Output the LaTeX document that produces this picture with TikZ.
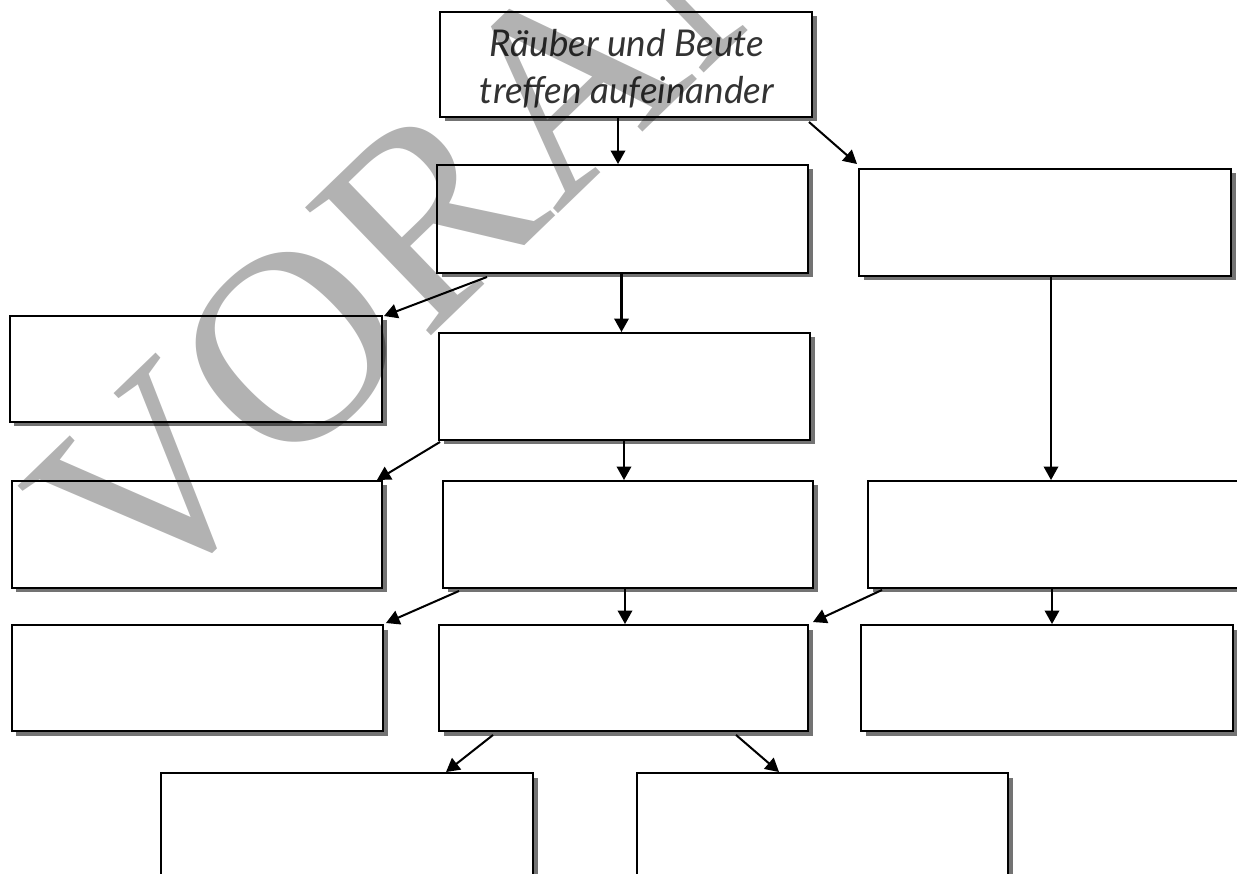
\documentclass[tikz,border=0pt]{standalone}
\usepackage{fontspec}
\setmainfont{Liberation Serif}
\newfontfamily\handfont{Lato}
\usetikzlibrary{arrows.meta,shadows,calc}
\definecolor{txtgray}{HTML}{333333}
\begin{document}
\begin{tikzpicture}[x=0.02cm, y=-0.02cm,
  box/.style 2 args={draw, line width=1.1pt, fill=white, inner sep=0pt,
    minimum width={#1*0.02cm}, minimum height={#2*0.02cm},
    drop shadow={shadow xshift=0.09cm, shadow yshift=-0.09cm, fill=black!55, opacity=1}},
  arr/.style={line width=1.15pt, -{Triangle[length=0.27cm, width=0.29cm]}},
  handtext/.style={align=center, text=txtgray, inner sep=0pt, font=\handfont\itshape\fontsize{21}{27}\selectfont},
  watermark/.style={anchor=base west, rotate=44, inner sep=0pt, text=black, text opacity=0.3,
    font=\fontsize{156}{156}\selectfont}]
\useasboundingbox (0,0) rectangle (1237,874);
% boxes
\node[box={372}{105}] (T) at (626,64.5) {};
\node[handtext] (Tlabel) at ($(T.center)+(1,4)$) {Räuber und Beute\\treffen aufeinander};
\node[box={371}{108}] (A1) at (622.5,219) {};
\node[box={371}{107}] (A2) at (624.5,386.5) {};
\node[box={372}{107}] (R1) at (1045,222.5) {};
\node[box={372}{106}] (L1) at (196,369) {};
\node[box={370}{107}] (L2) at (197,534.5) {};
\node[box={370}{107}] (M3) at (628,534.5) {};
\node[box={376}{107}] (R2) at (1056,534.5) {};
\node[box={371}{106}] (L3) at (197.5,678) {};
\node[box={369}{106}] (M4) at (623.5,678) {};
\node[box={372}{106}] (R3) at (1047,678) {};
\node[box={372}{110}] (B1) at (347,828) {};
\node[box={371}{110}] (B2) at (822.5,828) {};
% vertical connectors
\coordinate (v1) at ($(T.south)+(-8,0)$);
\draw[arr] (v1) -- (v1 |- A1.north);
\coordinate (v2) at ($(A1.south)+(-1,0)$);
\draw[arr] (v2) -- (v2 |- A2.north);
\coordinate (v3) at ($(A2.south)+(-0.5,0)$);
\draw[arr] (v3) -- (v3 |- M3.north);
\coordinate (v4) at ($(M3.south)+(-3,0)$);
\draw[arr] (v4) -- (v4 |- M4.north);
\coordinate (v5) at ($(R1.south)+(6,0)$);
\draw[arr] (v5) -- (v5 |- R2.north);
\coordinate (v6) at ($(R2.south)+(-4,0)$);
\draw[arr] (v6) -- (v6 |- R3.north);
% diagonal connectors
\draw[arr] ($(T.south east)+(-4,4)$) -- ($(R1.north west)+(-1,-4)$);
\draw[arr] ($(A1.south west)+(51,3)$) -- ($(L1.north east)+(1,1)$);
\draw[arr] ($(A2.south west)+(2,1)$) -- ($(L2.north east)+(-6,0)$);
\draw[arr] ($(M3.south west)+(17,2)$) -- ($(L3.north east)+(2,-1)$);
\draw[arr] ($(R2.south west)+(15,1)$) -- ($(M4.north east)+(4,-2)$);
\draw[arr] ($(M4.south west)+(55,3)$) -- ($(B1.north)+(99,0)$);
\draw[arr] ($(M4.south west)+(298,3)$) -- ($(B2.north west)+(143,0)$);
% watermark
\node[watermark] (wm) at (140,618) {VORANSICHT};
\end{tikzpicture}
\end{document}
